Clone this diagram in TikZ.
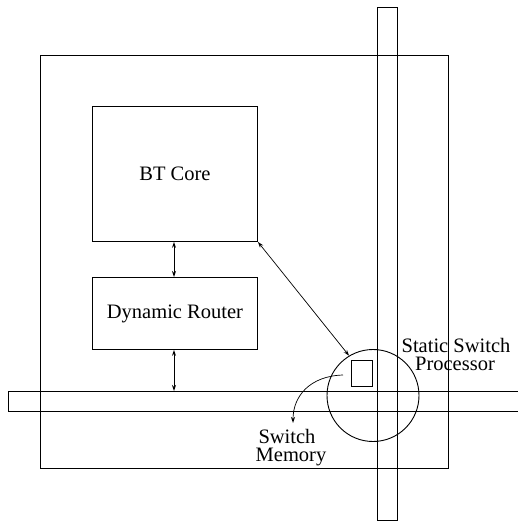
\documentclass[tikz,border=0pt]{standalone}
\usepackage{fontspec}
\setmainfont{Liberation Serif}
\usetikzlibrary{arrows.meta}
\begin{document}
\begin{tikzpicture}[x=1pt,y=-1pt,
  line width=0.9pt,
  box/.style={draw,rectangle,inner sep=0pt,anchor=north west},
  lbl/.style={font=\fontsize{20.5}{20.5}\selectfont,inner sep=0pt},
  dbl/.style={{Stealth[length=6pt,width=4pt,open]}-{Stealth[length=6pt,width=4pt,open]},line width=0.7pt},
  one/.style={-{Stealth[length=6pt,width=4pt,open]},line width=0.7pt}]
\useasboundingbox (0,0) rectangle (518,522);
% outer tile
\node[box,minimum width=408pt,minimum height=413pt] (tile) at (40,55) {};
% vertical bar
\node[box,minimum width=20pt,minimum height=513pt] (vbar) at (377,7) {};
% horizontal bar (open to the right)
\coordinate (hbtl) at (8,391);
\coordinate (hbbl) at (8,411);
\draw (518,391) -- (hbtl) -- (hbbl) -- (518,411);
% BT Core
\node[box,minimum width=165pt,minimum height=135pt] (bt) at (92,106) {};
\node[lbl] (btl) at (bt.center) {BT Core};
% Dynamic Router
\node[box,minimum width=165pt,minimum height=72pt] (dr) at (92,277) {};
\node[lbl] (drl) at (dr.center) {Dynamic Router};
% static switch processor
\node[draw,circle,minimum size=92pt,inner sep=0pt] (ssp) at (373,395.5) {};
\node[box,minimum width=21pt,minimum height=26pt] (mem) at (351,360) {};
% labels
\node[lbl] (sspl1) at (456,345) {Static Switch};
\node[lbl] (sspl2) at (455,364) {Processor};
\node[lbl] (sml1) at (287,436) {Switch};
\node[lbl] (sml2) at (291,457) {Memory};
% connectors
\coordinate (hbtop) at (174,391);
\draw[dbl] (bt.south -| 174,0) -- (dr.north -| 174,0);
\draw[dbl] (dr.south -| 174,0) -- (hbtop);
\draw[dbl] (bt.south east) -- (ssp.121);
\coordinate (arcs) at (343,375);
\coordinate (arce) at (293,423);
\draw[one] (arcs) .. controls (310,376) and (293,396) .. (arce);
\end{tikzpicture}
\end{document}
